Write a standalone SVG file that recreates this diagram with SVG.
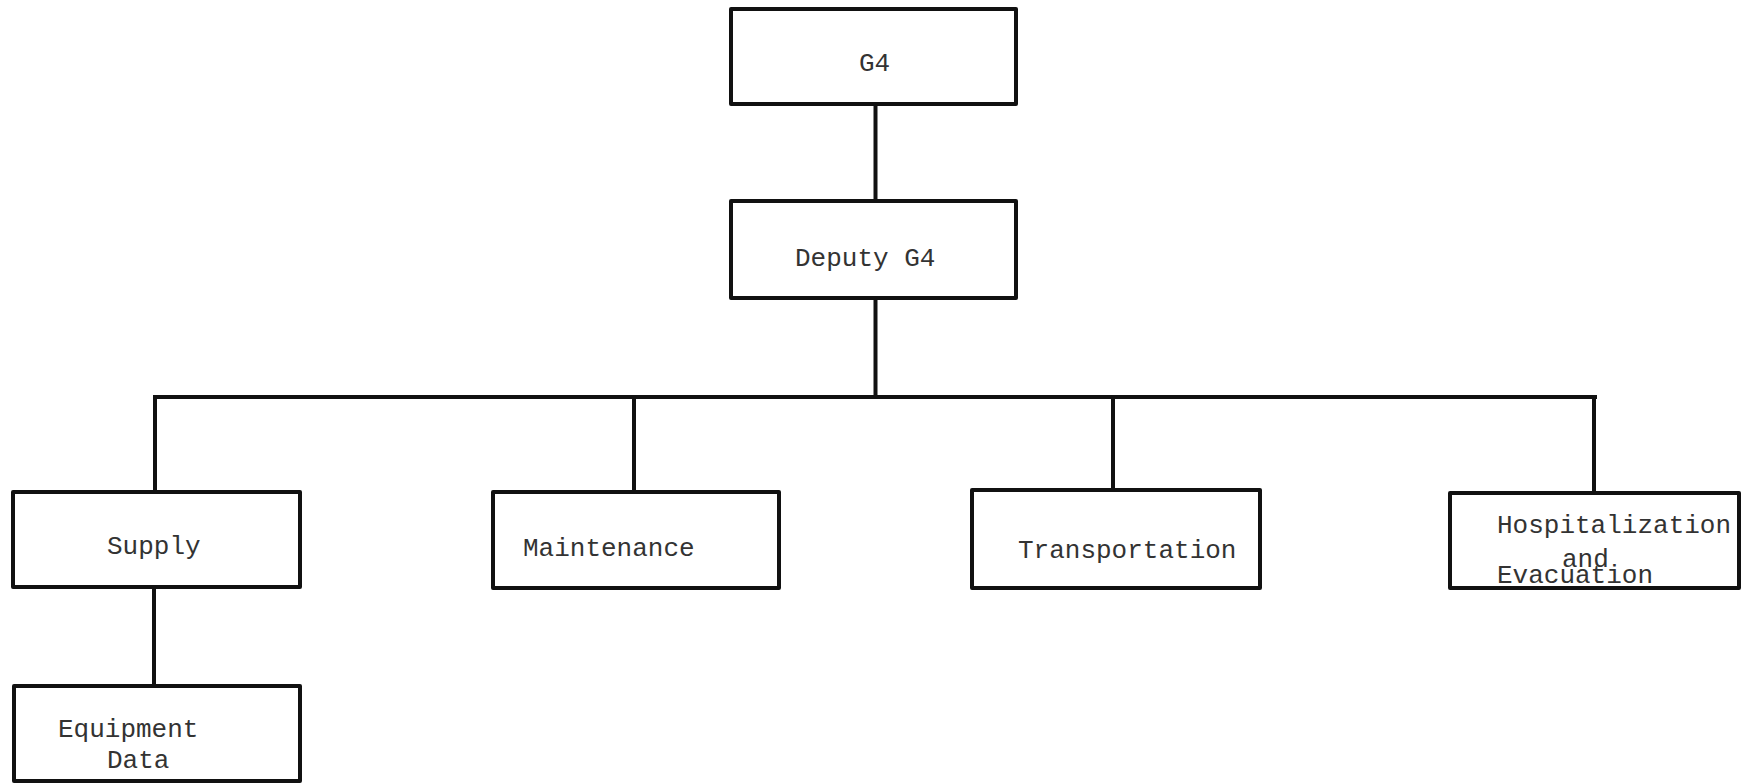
<svg xmlns="http://www.w3.org/2000/svg" width="1746" height="784" viewBox="0 0 1746 784">
<style>
.box{fill:#fff;stroke:#111;stroke-width:4;stroke-linejoin:round}
.ln{stroke:#111;stroke-width:4;fill:none;stroke-linecap:square}
.t{font-family:"Liberation Mono","DejaVu Sans Mono",monospace;font-size:26px;fill:#333}
</style>
<rect width="1746" height="784" fill="#fff"/>
<g id="connectors">
<line class="ln" x1="875.5" y1="104" x2="875.5" y2="201"/>
<line class="ln" x1="875.5" y1="298" x2="875.5" y2="397"/>
<line class="ln" x1="155" y1="397" x2="1595" y2="397"/>
<line class="ln" x1="155" y1="397" x2="155" y2="492"/>
<line class="ln" x1="634" y1="397" x2="634" y2="492"/>
<line class="ln" x1="1113" y1="397" x2="1113" y2="490"/>
<line class="ln" x1="1594" y1="397" x2="1594" y2="492"/>
<line class="ln" x1="154" y1="587" x2="154" y2="686"/>
</g>
<g id="g4">
<rect class="box" x="731" y="9" width="285" height="95"/>
<text class="t" x="859" y="71">G4</text>
</g>
<g id="deputy-g4">
<rect class="box" x="731" y="201" width="285" height="97"/>
<text class="t" x="795" y="266">Deputy G4</text>
</g>
<g id="supply">
<rect class="box" x="13" y="492" width="287" height="95"/>
<text class="t" x="107" y="554">Supply</text>
</g>
<g id="maintenance">
<rect class="box" x="493" y="492" width="286" height="96"/>
<text class="t" x="523" y="556">Maintenance</text>
</g>
<g id="transportation">
<rect class="box" x="972" y="490" width="288" height="98"/>
<text class="t" x="1018" y="558">Transportation</text>
</g>
<g id="hospitalization">
<rect class="box" x="1450" y="493" width="289" height="95"/>
<text class="t" x="1497" y="533">Hospitalization</text>
<text class="t" x="1562" y="567">and</text>
<text class="t" x="1497" y="583">Evacuation</text>
</g>
<g id="equipment-data">
<rect class="box" x="14" y="686" width="286" height="95"/>
<text class="t" x="58" y="737">Equipment</text>
<text class="t" x="107" y="768">Data</text>
</g>
</svg>
